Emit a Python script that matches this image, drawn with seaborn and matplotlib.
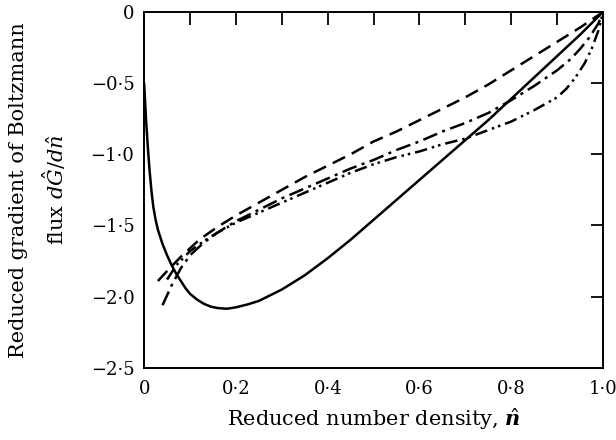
import numpy as np
import pandas as pd
import matplotlib
matplotlib.use("Agg")
import matplotlib.pyplot as plt
import seaborn as sns
from matplotlib.ticker import FixedLocator, FixedFormatter

sns.set_theme(style="white")
plt.rcParams['font.family'] = ['DejaVu Serif']
plt.rcParams['mathtext.fontset'] = 'dejavuserif'

# --- data ---
n_solid = [0.0, 0.004, 0.008, 0.012, 0.016, 0.02, 0.025, 0.03, 0.04, 0.05, 0.06, 0.07,
           0.08, 0.09, 0.10, 0.115, 0.13, 0.145, 0.16, 0.18, 0.20, 0.225,
           0.25, 0.30, 0.35, 0.40, 0.45, 0.50, 0.55, 0.60, 0.65, 0.70, 0.75, 0.80,
           0.85, 0.90, 0.95, 1.0]
g_solid = [-0.5, -0.75, -0.95, -1.12, -1.26, -1.37, -1.46, -1.53, -1.63, -1.71, -1.78, -1.84,
           -1.89, -1.94, -1.98, -2.02, -2.05, -2.07, -2.08, -2.085, -2.075, -2.055,
           -2.03, -1.95, -1.85, -1.73, -1.60, -1.46, -1.32, -1.18, -1.04, -0.90, -0.76, -0.61,
           -0.46, -0.31, -0.16, 0.0]

n_dash = [0.03, 0.05, 0.08, 0.12, 0.16, 0.20, 0.25, 0.30, 0.35, 0.40, 0.45, 0.50,
          0.55, 0.60, 0.65, 0.70, 0.75, 0.80, 0.85, 0.90, 0.95, 1.0]
g_dash = [-1.89, -1.82, -1.72, -1.60, -1.51, -1.43, -1.34, -1.25, -1.16, -1.08, -1.00, -0.91,
          -0.84, -0.76, -0.68, -0.60, -0.51, -0.41, -0.31, -0.21, -0.11, 0.0]

n_dashdot = [0.04, 0.06, 0.08, 0.10, 0.13, 0.16, 0.20, 0.25, 0.30, 0.35, 0.40, 0.45,
             0.50, 0.55, 0.60, 0.65, 0.70, 0.75, 0.80, 0.85, 0.90, 0.93, 0.95, 0.97, 0.99, 1.0]
g_dashdot = [-2.06, -1.92, -1.80, -1.71, -1.62, -1.55, -1.47, -1.39, -1.31, -1.24, -1.17, -1.10,
             -1.04, -0.97, -0.91, -0.84, -0.78, -0.71, -0.62, -0.52, -0.41, -0.33, -0.26, -0.18,
             -0.08, 0.0]

n_dashdotdot = [0.05, 0.07, 0.10, 0.13, 0.16, 0.20, 0.25, 0.30, 0.35, 0.40, 0.45, 0.50,
                0.55, 0.60, 0.65, 0.70, 0.75, 0.80, 0.85, 0.90, 0.92, 0.94, 0.96, 0.975,
                0.99, 1.0]
g_dashdotdot = [-1.88, -1.78, -1.68, -1.61, -1.55, -1.48, -1.41, -1.34, -1.27, -1.20, -1.13, -1.07,
                -1.02, -0.98, -0.93, -0.89, -0.83, -0.77, -0.69, -0.60, -0.54, -0.46, -0.36, -0.26,
                -0.13, 0.0]

x_ticks = [0.0, 0.1, 0.2, 0.3, 0.4, 0.5, 0.6, 0.7, 0.8, 0.9, 1.0]
x_ticklabels = ["0", "", "0·2", "", "0·4", "", "0·6", "", "0·8", "", "1·0"]
y_ticks = [0.0, -0.5, -1.0, -1.5, -2.0, -2.5]
y_ticklabels = ["0", "−0·5", "−1·0", "−1·5", "−2·0", "−2·5"]

fig = plt.figure(figsize=(6.16, 4.40), dpi=100)
ax = fig.add_axes([0.234, 0.164, 0.745, 0.809])

lw = 1.8
styles = [
    (n_solid, g_solid, '-'),
    (n_dash, g_dash, (0, (5.5, 3.0))),
    (n_dashdot, g_dashdot, (0, (6.0, 2.2, 1.2, 2.2))),
    (n_dashdotdot, g_dashdotdot, (0, (5.0, 2.0, 1.0, 1.6, 1.0, 2.0))),
]
for xs, ys, ls in styles:
    df = pd.DataFrame({"n": xs, "g": ys})
    sns.lineplot(data=df, x="n", y="g", ax=ax, color="black", linewidth=lw,
                 linestyle=ls, sort=False, estimator=None, solid_joinstyle='round',
                 dash_capstyle='butt')

ax.set_xlim(0, 1.0)
ax.set_ylim(-2.5, 0)
ax.xaxis.set_major_locator(FixedLocator(x_ticks))
ax.xaxis.set_major_formatter(FixedFormatter(x_ticklabels))
ax.yaxis.set_major_locator(FixedLocator(y_ticks))
ax.yaxis.set_major_formatter(FixedFormatter(y_ticklabels))
ax.tick_params(axis='both', direction='in', length=9, width=1.3, color='black',
               top=True, right=True, labelsize=13, labelcolor='black')
ax.tick_params(axis='x', pad=9)
ax.tick_params(axis='y', pad=7)
for s in ax.spines.values():
    s.set_visible(True)
    s.set_color('black')
    s.set_linewidth(1.4)

ax.set_xlabel(r"Reduced number density, $\hat{\boldsymbol{n}}$", fontsize=15,
              color='black', labelpad=6)
ax.set_ylabel("Reduced gradient of Boltzmann\n" + r"flux $d\hat{G}/d\hat{n}$", fontsize=15,
              color='black', labelpad=16, linespacing=1.55)

fig.savefig("out.png", dpi=100, facecolor='white')
